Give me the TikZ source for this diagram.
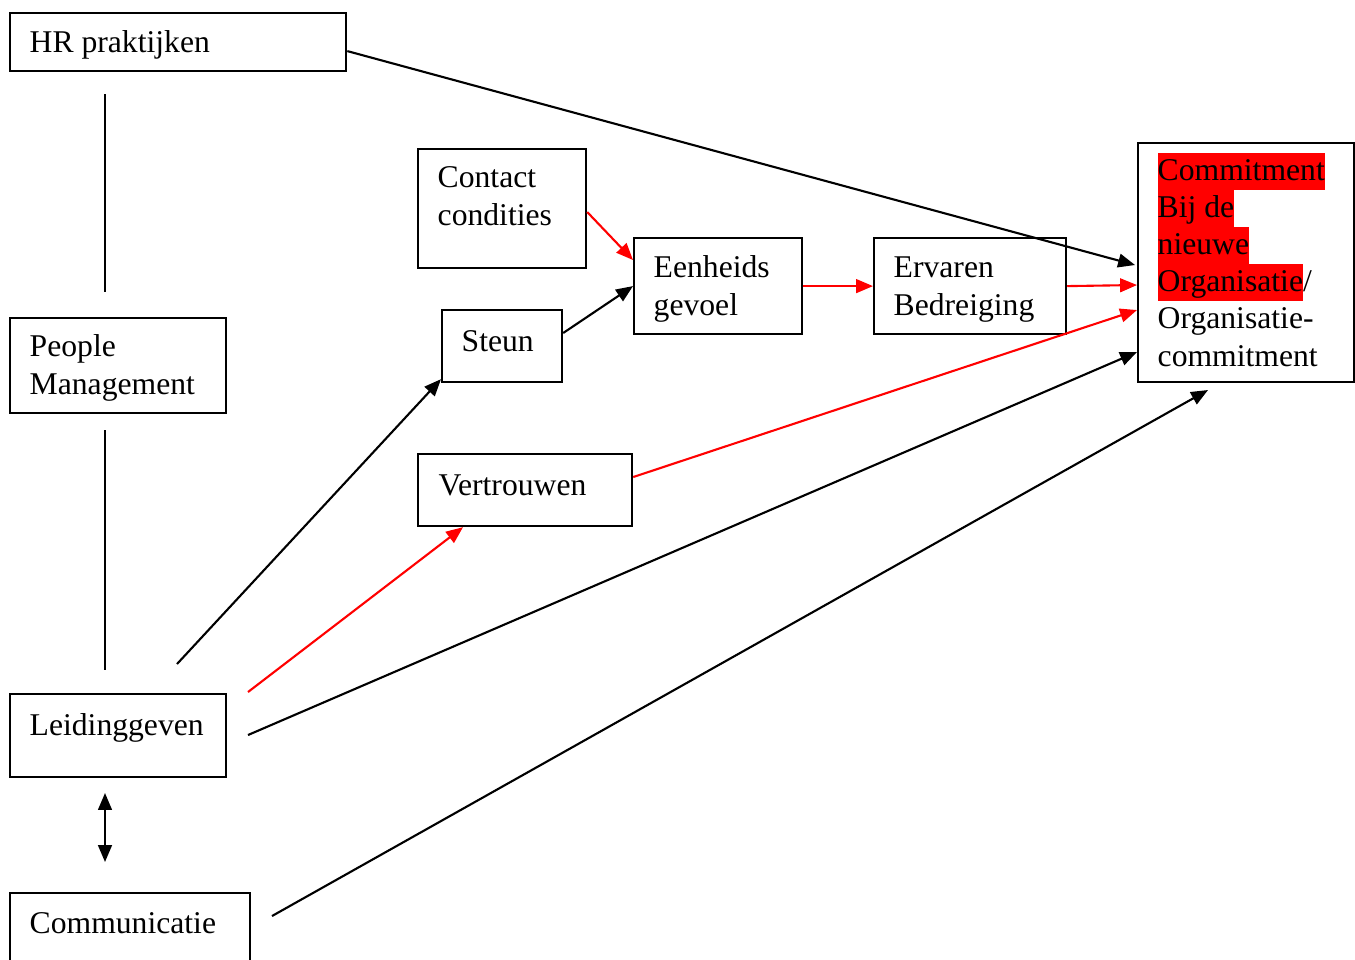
\documentclass[tikz,border=0pt]{standalone}
\usepackage{fontspec}
\setmainfont{Liberation Serif}
\usetikzlibrary{arrows.meta}
\newcommand{\hlred}[1]{{\setlength{\fboxsep}{0pt}\colorbox{red}{\rule[-2.55pt]{0pt}{10.5pt}#1}}}

\begin{document}
\begin{tikzpicture}[x=0.01cm, y=-0.01cm,
                    >={Triangle[length=4.8pt, width=3.9pt]},
                    box/.style={rectangle, draw, line width=0.6pt, anchor=north west, inner sep=0pt},
                    txt/.style={anchor=base west, inner sep=0pt, align=left,
                                font=\fontsize{9pt}{10.53pt}\selectfont},
                    link/.style={line width=0.6pt},
                    redlink/.style={line width=0.6pt, red}]
  \useasboundingbox (0,0) rectangle (1355,959);
  \clip (0,0) rectangle (1355,959);
  % boxes
  \node[box, minimum width=3.36cm, minimum height=0.58cm] (hr) at (9,12) {};
  \node[box, minimum width=2.16cm, minimum height=0.95cm] (pm) at (9,317) {};
  \node[box, minimum width=2.16cm, minimum height=0.83cm] (lg) at (9,693) {};
  \node[box, minimum width=2.40cm, minimum height=0.90cm] (cm) at (9,892) {};
  \node[box, minimum width=1.68cm, minimum height=1.19cm] (cc) at (417,148) {};
  \node[box, minimum width=1.20cm, minimum height=0.72cm] (st) at (441,309) {};
  \node[box, minimum width=1.68cm, minimum height=0.96cm] (eg) at (633,237) {};
  \node[box, minimum width=1.92cm, minimum height=0.96cm] (eb) at (873,237) {};
  \node[box, minimum width=2.14cm, minimum height=0.72cm] (vt) at (417,453) {};
  \node[box, minimum width=2.16cm, minimum height=2.39cm] (co) at (1137,142) {};
  % texts (base = last line)
  \node[txt] (hr-t) at (29,52) {HR praktijken};
  \node[txt] (pm-t) at (29,394) {People\\Management};
  \node[txt] (lg-t) at (29,735) {Leidinggeven};
  \node[txt] (cm-t) at (29,933) {Communicatie};
  \node[txt] (cc-t) at (437,225) {Contact\\condities};
  \node[txt] (st-t) at (461,351) {Steun};
  \node[txt] (eg-t) at (653,315) {Eenheids\\gevoel};
  \node[txt] (eb-t) at (893,315) {Ervaren\\Bedreiging};
  \node[txt] (vt-t) at (438,495) {Vertrouwen};
  \node[txt] (co-t) at (1157,366) {\hlred{Commitment}\\\hlred{Bij de}\\\hlred{nieuwe}\\\hlred{Organisatie}/\\Organisatie-\\commitment};
  % free ends
  \coordinate (hrdown) at (105,94);
  \coordinate (pmup) at (105,292);
  \coordinate (pmdown) at (105,430);
  \coordinate (lgup) at (105,670);
  \coordinate (lgdown) at (105,793);
  \coordinate (cmup) at (105,862);
  \coordinate (lgst) at (177,664);
  \coordinate (lgvt) at (248,692);
  \coordinate (lgco) at (248,735);
  \coordinate (cmco) at (272,916);
  \coordinate (coend) at (1208,390);
  % connectors
  \draw[link] (hrdown) -- (pmup);
  \draw[link] (pmdown) -- (lgup);
  \draw[link, <->] (lgdown) -- (cmup);
  \draw[link, ->] ([shift={(0,9)}]hr.east) -- ([shift={(-2,123)}]co.north west);
  \draw[redlink, ->] ([shift={(0,64)}]cc.north east) -- ([shift={(0,23)}]eg.north west);
  \draw[link, ->] ([shift={(0,24)}]st.north east) -- (eg.west);
  \draw[redlink, ->] (eg.east) -- (eb.west);
  \draw[redlink, ->] (eb.east) -- ([shift={(0,143)}]co.north west);
  \draw[redlink, ->] ([shift={(0,24)}]vt.north east) -- ([shift={(0,168)}]co.north west);
  \draw[link, ->] (lgst) -- ([shift={(0,-4)}]st.south west);
  \draw[redlink, ->] (lgvt) -- ([shift={(46,0)}]vt.south west);
  \draw[link, ->] (lgco) -- ([shift={(0,210)}]co.north west);
  \draw[link, ->] (cmco) -- (coend);
\end{tikzpicture}
\end{document}
